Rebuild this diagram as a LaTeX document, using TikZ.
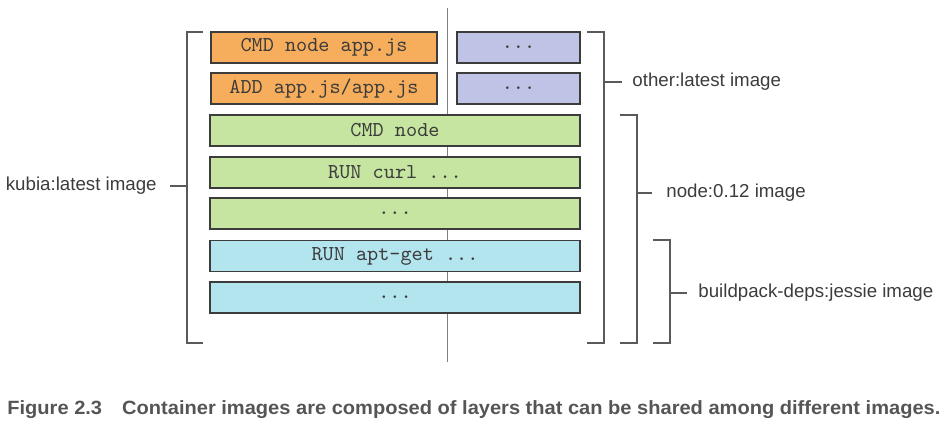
\documentclass[tikz,border=0pt]{standalone}
\usepackage{fontspec}
\setmainfont{Liberation Sans}
\usetikzlibrary{positioning}
\definecolor{apporange}{RGB}{246,173,92}
\definecolor{otherblue}{RGB}{191,195,230}
\definecolor{nodegreen}{RGB}{197,229,160}
\definecolor{depscyan}{RGB}{179,229,238}
\definecolor{inkgray}{RGB}{60,60,60}
\definecolor{bracketgray}{RGB}{90,90,90}
\newcommand\layerdots{...}
\tikzset{
  layer/.style={draw=inkgray, line width=0.7pt, minimum height=15.5pt, inner sep=0pt,
    font=\ttfamily\fontsize{10.6pt}{11pt}\selectfont, text=inkgray},
  imglabel/.style={inner sep=0pt, font=\fontsize{9.35pt}{11pt}\selectfont, text=inkgray},
  bracket/.style={draw=bracketgray, line width=0.8pt}
}
\begin{document}
\begin{tikzpicture}[x=0.5pt, y=-0.5pt]
\useasboundingbox (0,0) rectangle (949,433);
% divider between the two images
\draw[gray, line width=0.5pt] (447,8) -- (447,362);

% kubia:latest layers (left column)
\node[layer, fill=apporange, minimum width=113pt] (cmdapp) at (324,47.5) {CMD node app.js};
\node[layer, fill=apporange, minimum width=113pt] (addapp) at (324,88.5) {ADD app.js/app.js};
% other:latest layers (right column)
\node[layer, fill=otherblue, minimum width=61.5pt] (other1) at (518.5,47.5) {\layerdots};
\node[layer, fill=otherblue, minimum width=61.5pt] (other2) at (518.5,88.5) {\layerdots};

% shared layers
\foreach \n/\y/\col/\txt in {cmdnode/130.5/nodegreen/CMD node,
                             curl/172.5/nodegreen/RUN curl \layerdots,
                             nodedots/213.5/nodegreen/\layerdots,
                             aptget/256/depscyan/RUN apt-get \layerdots,
                             depsdots/297.5/depscyan/\layerdots}
  \node[layer, fill=\col, minimum width=185pt] (\n) at (395,\y) {\txt};

% left bracket
\draw[bracket] (203,32) -- (187,32) -- (187,343) -- (203,343);
\node[imglabel, anchor=east] (kubia) at (157,186) {kubia:latest image};
\draw[bracket] (187,186) -- ([xshift=6.5pt]kubia.east);

% right brackets
\draw[bracket, line width=1pt] (587,32) -- (604,32) -- (604,343) -- (587,343);
\node[imglabel, anchor=west] (otherlbl) at (632,82) {other:latest image};
\draw[bracket, line width=1pt] (604,82) -- ([xshift=-5pt]otherlbl.west);

\draw[bracket, line width=1pt] (620,115) -- (637,115) -- (637,343) -- (620,343);
\node[imglabel, anchor=west] (nodelbl) at (666,193) {node:0.12 image};
\draw[bracket, line width=1pt] (637,193) -- ([xshift=-7pt]nodelbl.west);

\draw[bracket] (653,240) -- (670,240) -- (670,343) -- (653,343);
\node[imglabel, anchor=west] (depslbl) at (698,293) {buildpack-deps:jessie image};
\draw[bracket] (670,293) -- ([xshift=-5.5pt]depslbl.west);

% caption
\node[anchor=west, inner sep=0pt, text={rgb,255:red,85;green,85;blue,85}] (caption) at (7,410)
  {\resizebox{466.5pt}{\height}{\fontsize{9.6pt}{11pt}\selectfont\bfseries Figure 2.3\quad Container images are composed of layers that can be shared among different images.}};
\end{tikzpicture}
\end{document}
